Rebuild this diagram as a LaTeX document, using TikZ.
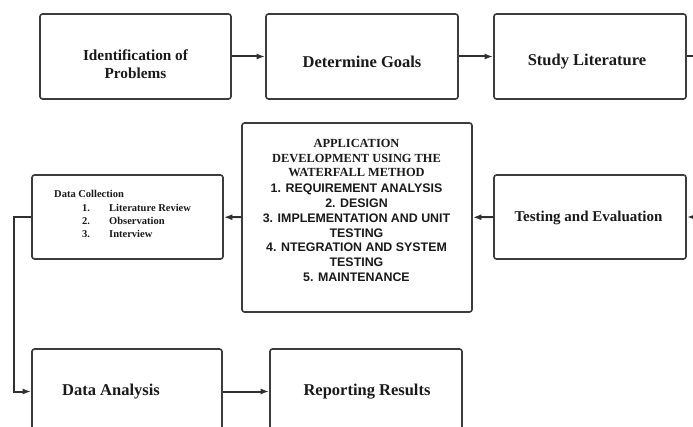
\documentclass[tikz,border=0pt]{standalone}
\usepackage{fontspec}
\setmainfont{Liberation Serif}
\newfontfamily\listsans{Liberation Sans}
\usetikzlibrary{arrows.meta}
\definecolor{boxgray}{HTML}{3C3C3C}
\definecolor{linkgray}{HTML}{303030}
\definecolor{inkgray}{HTML}{1A1A1A}

\begin{document}
\begin{tikzpicture}[x=1pt,y=-1pt,
  stepbox/.style={draw=boxgray, line width=1.6pt, rounded corners=2.5pt,
    minimum width=192pt, minimum height=85pt, inner sep=0pt},
  steptext/.style={inner sep=0pt, align=center, text=inkgray,
    font=\fontsize{15.3}{18}\selectfont\bfseries},
  bigtext/.style={steptext, font=\fontsize{16.5}{19}\selectfont\bfseries},
  flow/.style={draw=linkgray, line width=2pt,
    -{Latex[length=8.5pt,width=6pt]}},
  smalltext/.style={inner sep=0pt, anchor=base west, text=inkgray,
    font=\fontsize{10.5}{13}\selectfont\bfseries}]

\useasboundingbox[fill=white] (0,0) rectangle (693,427);

% top row
\node[stepbox, minimum width=191pt] (idp) at (135.5,56.5) {};
\node[stepbox] (goals) at (362,56.5) {};
\node[stepbox] (lit) at (590,56.5) {};
\node[steptext] (idp-t) at (135.5,64) {Identification of\\Problems};
\node[bigtext] (goals-t) at (362,62) {Determine Goals};
\node[bigtext] (lit-t) at (587,62) {Study Literature};

% middle row
\node[stepbox, minimum height=84pt] (test) at (590,217) {};
\node[steptext, font=\fontsize{15}{18}\selectfont\bfseries] (test-t) at (588.5,218) {Testing and Evaluation};
\node[stepbox, minimum width=230pt, minimum height=189pt] (app) at (357,217.5) {};
\node[stepbox, minimum width=191pt, minimum height=84pt] (dc) at (127.5,217) {};

% bottom row
\node[stepbox, minimum width=190pt] (da) at (127,391.5) {};
\node[stepbox] (rep) at (366,391.5) {};
\node[bigtext, anchor=west] (da-t) at (62,392) {Data Analysis};
\node[bigtext] (rep-t) at (367,392) {Reporting Results};

% waterfall method text
\node[inner sep=0pt, align=center, text=inkgray, anchor=north,
      font=\fontsize{12.4}{14.8}\selectfont\bfseries] (app-t) at (356.5,138.8)
  {APPLICATION\\
   DEVELOPMENT USING THE\\
   WATERFALL METHOD\\[1pt]
   {\listsans 1. REQUIREMENT ANALYSIS}\\
   {\listsans 2. DESIGN}\\
   {\listsans 3. IMPLEMENTATION AND UNIT}\\
   {\listsans TESTING}\\
   {\listsans 4. NTEGRATION AND SYSTEM}\\
   {\listsans TESTING}\\
   {\listsans 5. MAINTENANCE}};

% data collection text
\node[smalltext] (dctitle) at (54,197.5) {Data Collection};
\node[smalltext] (dcn1) at (82,211.5) {1.};
\node[smalltext] (dct1) at (109,211.5) {Literature Review};
\node[smalltext] (dcn2) at (82,224.5) {2.};
\node[smalltext] (dct2) at (109,224.5) {Observation};
\node[smalltext] (dcn3) at (82,237.5) {3.};
\node[smalltext] (dct3) at (109,237.5) {Interview};

% connectors
\draw[flow] (idp) -- (goals);
\draw[flow] (goals) -- (lit);
\coordinate (rturn) at (700,56.5);
\draw[flow] (lit.east) -- (rturn) |- (test.east);
\draw[flow] (test) -- (app);
\draw[flow] (app) -- (dc);
\coordinate (lturn) at (14,217);
\draw[flow] (dc.west) -- (lturn) |- (da.west);
\draw[flow] (da) -- (rep);
\end{tikzpicture}
\end{document}
